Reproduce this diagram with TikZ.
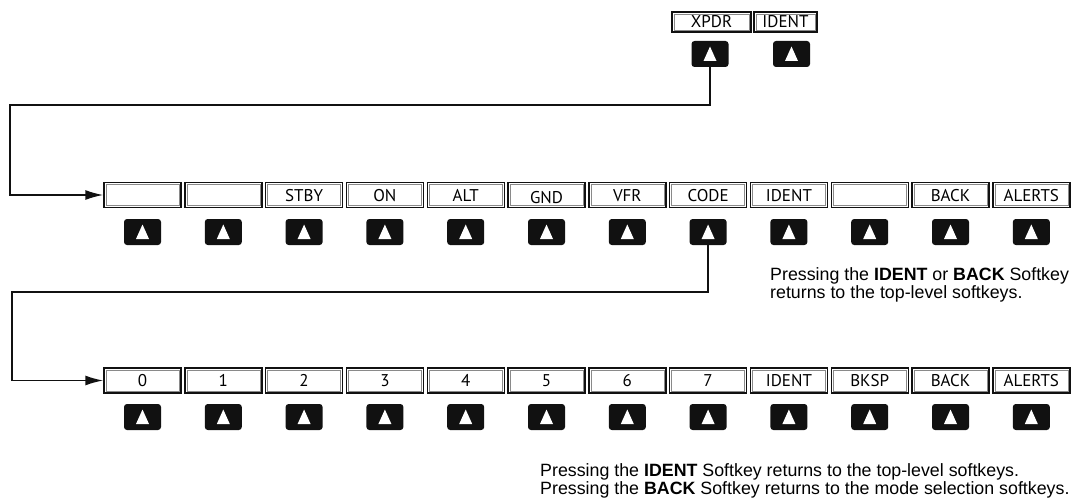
\documentclass[tikz,border=0pt]{standalone}
\usepackage{fontspec}
\setmainfont{Liberation Sans}
\newfontfamily\keyfont{PT Sans}
\usepackage{xcolor}
\definecolor{keyblack}{HTML}{111111}
\definecolor{innergray}{HTML}{8A8A8A}
\usetikzlibrary{arrows.meta,positioning}
\tikzset{
  labelbox/.style={
    rectangle, draw=keyblack, line width=1.4pt, fill=white,
    minimum width=77pt, minimum height=25pt, inner sep=0pt,
    font=\keyfont\fontsize{17}{17}\selectfont, text height=12pt, text depth=0pt,
    path picture={
      \draw[innergray, line width=0.5pt]
        ([shift={(2pt,2pt)}]path picture bounding box.south west) rectangle
        ([shift={(-2pt,-2pt)}]path picture bounding box.north east);
    }
  },
  smallbox/.style={labelbox, minimum height=20pt},
  keybtn/.style={
    rectangle, rounded corners=3pt, fill=keyblack, draw=none,
    minimum width=37pt, minimum height=26pt, inner sep=0pt,
    path picture={
      \fill[white, sharp corners]
        ([shift={(-6.5pt,-7pt)}]path picture bounding box.center) --
        ([shift={(6.5pt,-7pt)}]path picture bounding box.center) --
        ([shift={(0pt,7.5pt)}]path picture bounding box.center) -- cycle;
    }
  },
  note/.style={align=left, inner sep=0pt, font=\fontsize{17.8}{17.8}\selectfont},
  arrow/.style={-{Latex[length=18pt,width=10pt]}, line width=1.6pt, draw=keyblack}
}

\begin{document}
\begin{tikzpicture}[x=1pt,y=-1pt]
  \useasboundingbox (0,0) rectangle (1073,503);

  % Top-level softkeys
  \node[smallbox, minimum width=79pt] (t-xpdr) at (711.5,22) {XPDR};
  \node[smallbox, minimum width=63pt] (t-ident) at (785.5,22) {IDENT};
  \node[keybtn] (tb-xpdr) at (710,54) {};
  \node[keybtn] (tb-ident) at (791.5,54) {};

  % Mode selection softkeys
  \foreach \lbl [count=\i from 0] in {{},{},STBY,ON,ALT,{\raisebox{-2pt}{GND}},VFR,CODE,IDENT,{},BACK,ALERTS} {
    \node[labelbox] (r1-\i) at (142.5+80.8*\i,195) {\lbl};
    \node[keybtn] (b1-\i) at (142.5+80.8*\i,232) {};
  }

  % Code selection softkeys
  \foreach \lbl [count=\i from 0] in {0,1,2,3,4,5,6,7,IDENT,BKSP,BACK,ALERTS} {
    \node[labelbox] (r2-\i) at (142.5+80.8*\i,380.5) {\lbl};
    \node[keybtn] (b2-\i) at (142.5+80.8*\i,417) {};
  }

  % Notes (base = last line)
  \node[note, anchor=base west] (note1) at (770,298)
  {Pressing the \textbf{IDENT} or \textbf{BACK} Softkey\\
   returns to the top-level softkeys.};

  \node[note, anchor=base west] (note2) at (540,494)
  {Pressing the \textbf{IDENT} Softkey returns to the top-level softkeys.\\
   Pressing the \textbf{BACK} Softkey returns to the mode selection softkeys.};

  % Connectors
  \coordinate (turn1) at (10,105);
  \coordinate (turn2) at (12,292);
  \draw[arrow] (tb-xpdr.south) |- (turn1) |- (r1-0.west);
  \draw[arrow] (b1-7.south) |- (turn2) |- (r2-0.west);

\end{tikzpicture}
\end{document}
